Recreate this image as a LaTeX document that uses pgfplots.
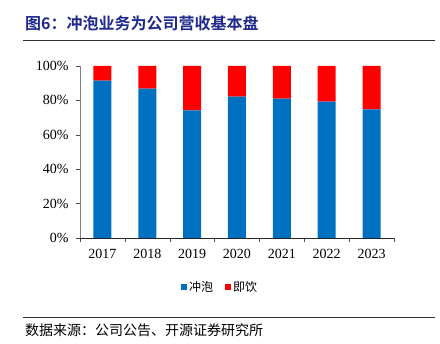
\documentclass[border=0pt]{standalone}
\usepackage{pgfplots}
\pgfplotsset{compat=1.18}
\usepackage{fontspec}
\setmainfont{Liberation Serif}
\newfontfamily\cjk{Noto Sans CJK SC}
\newfontfamily\cjkb{Noto Sans CJK SC Bold}
\definecolor{cblue}{HTML}{0070C0}
\definecolor{cred}{HTML}{FF0000}
\definecolor{ctitle}{HTML}{1F2A8C}
\begin{document}
\begin{tikzpicture}
\useasboundingbox (0pt,0pt) rectangle (440pt,344pt);
% title
\node[anchor=west, inner sep=0pt, text=ctitle, font=\cjkb\fontsize{16}{16}\selectfont] at (25pt,321pt) {图6：冲泡业务为公司营收基本盘};
\draw[line width=0.8pt, black!80] (23pt,304pt) -- (435pt,304pt);
\begin{axis}[
  at={(80pt,106pt)}, anchor=south west,
  scale only axis, width=314pt, height=172pt,
  ybar stacked, bar width=18pt,
  xmin=-0.5, xmax=6.5, ymin=0, ymax=100,
  xtick={0,...,6},
  xticklabels={2017,2018,2019,2020,2021,2022,2023},
  minor xtick={-0.5,0.5,...,6.5},
  major x tick style={draw=none},
  minor tick length=4pt,
  ytick={0,20,...,100},
  yticklabel={\pgfmathprintnumber{\tick}\%},
  major tick length=4pt,
  tick align=outside,
  xtick pos=bottom, ytick pos=left,
  axis x line*=bottom, axis y line*=left,
  x axis line style={black!85, -},
  y axis line style={black!50, -},
  every tick/.style={black!70},
  tick label style={font=\fontsize{14}{14}\selectfont},
  /pgf/number format/assume math mode=true,
  xticklabel style={yshift=-4pt},
  yticklabel style={xshift=-4pt},
  legend style={at={(0.446,-0.285)}, anchor=center, legend columns=2, draw=none, fill=none, font=\cjk\fontsize{12}{12}\selectfont, /tikz/every even column/.append style={column sep=10pt}},
  legend image code/.code={\fill[#1] (1pt,-3pt) rectangle (7pt,3pt);},
]
\addplot[fill=cblue, draw=none] coordinates {(0,91.5) (1,86.8) (2,74.2) (3,82.2) (4,81.0) (5,79.3) (6,74.8)};
\addplot[fill=cred, draw=none] coordinates {(0,8.5) (1,13.2) (2,25.8) (3,17.8) (4,19.0) (5,20.7) (6,25.2)};
\legend{冲泡,即饮}
\end{axis}
\draw[line width=1pt, black!80] (23pt,26pt) -- (435pt,26pt);
\node[anchor=west, inner sep=0pt, font=\cjk\fontsize{14}{14}\selectfont] at (25pt,14pt) {数据来源：公司公告、开源证券研究所};
\end{tikzpicture}
\end{document}
